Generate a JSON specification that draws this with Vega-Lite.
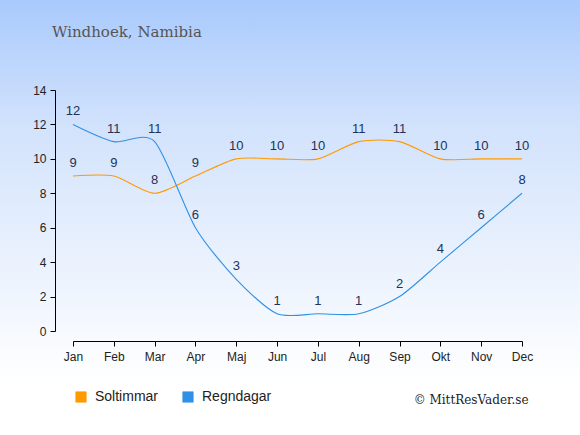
{
  "$schema": "https://vega.github.io/schema/vega-lite/v6.json",
  "width": 580,
  "height": 435,
  "padding": 0,
  "autosize": {"type": "none"},
  "background": "#ffffff",
  "title": {
    "text": "Windhoek, Namibia",
    "anchor": "start",
    "frame": "group",
    "font": "DejaVu Serif",
    "fontSize": 15,
    "fontWeight": "normal",
    "color": "#555555",
    "baseline": "alphabetic",
    "dx": 52,
    "offset": -52
  },
  "data": {
    "values": [
      {"month": "Jan", "series": "Soltimmar", "value": 9},
      {"month": "Feb", "series": "Soltimmar", "value": 9},
      {"month": "Mar", "series": "Soltimmar", "value": 8},
      {"month": "Apr", "series": "Soltimmar", "value": 9},
      {"month": "Maj", "series": "Soltimmar", "value": 10},
      {"month": "Jun", "series": "Soltimmar", "value": 10},
      {"month": "Jul", "series": "Soltimmar", "value": 10},
      {"month": "Aug", "series": "Soltimmar", "value": 11},
      {"month": "Sep", "series": "Soltimmar", "value": 11},
      {"month": "Okt", "series": "Soltimmar", "value": 10},
      {"month": "Nov", "series": "Soltimmar", "value": 10},
      {"month": "Dec", "series": "Soltimmar", "value": 10},
      {"month": "Jan", "series": "Regndagar", "value": 12},
      {"month": "Feb", "series": "Regndagar", "value": 11},
      {"month": "Mar", "series": "Regndagar", "value": 11},
      {"month": "Apr", "series": "Regndagar", "value": 6},
      {"month": "Maj", "series": "Regndagar", "value": 3},
      {"month": "Jun", "series": "Regndagar", "value": 1},
      {"month": "Jul", "series": "Regndagar", "value": 1},
      {"month": "Aug", "series": "Regndagar", "value": 1},
      {"month": "Sep", "series": "Regndagar", "value": 2},
      {"month": "Okt", "series": "Regndagar", "value": 4},
      {"month": "Nov", "series": "Regndagar", "value": 6},
      {"month": "Dec", "series": "Regndagar", "value": 8}
    ]
  },
  "encoding": {
    "x": {
      "field": "month",
      "type": "ordinal",
      "sort": null,
      "scale": {"type": "point", "padding": 0, "range": [73, 522]},
      "axis": {
        "title": "© MittResVader.se",
        "titleFont": "DejaVu Serif",
        "titleFontSize": 12,
        "titleFontWeight": "normal",
        "titleColor": "#222222",
        "titleAnchor": "end",
        "titleAlign": "right",
        "titleBaseline": "alphabetic",
        "titleX": 528,
        "titleY": 62,
        "offset": -94,
        "labelAngle": 0,
        "labelFont": "Liberation Sans",
        "labelFontSize": 12,
        "labelColor": "#222222",
        "labelPadding": 5,
        "domainColor": "#000000",
        "tickColor": "#000000",
        "tickSize": 5,
        "grid": false
      }
    },
    "y": {
      "field": "value",
      "type": "quantitative",
      "scale": {"domain": [0, 14], "range": [331, 90]},
      "axis": {
        "title": null,
        "values": [0, 2, 4, 6, 8, 10, 12, 14],
        "offset": -55,
        "labelFont": "Liberation Sans",
        "labelFontSize": 12,
        "labelColor": "#222222",
        "labelPadding": 4,
        "domainColor": "#000000",
        "tickColor": "#000000",
        "tickSize": 5,
        "grid": false
      }
    },
    "color": {
      "field": "series",
      "type": "nominal",
      "sort": ["Soltimmar", "Regndagar"],
      "scale": {"domain": ["Soltimmar", "Regndagar"], "range": ["#ff9900", "#2f91e6"]},
      "legend": {
        "title": null,
        "orient": "none",
        "direction": "horizontal",
        "legendX": 74,
        "legendY": 390,
        "symbolType": "square",
        "symbolSize": 110,
        "symbolStrokeWidth": 0,
        "symbolOpacity": 1,
        "labelFont": "Liberation Sans",
        "labelFontSize": 14,
        "labelColor": "#222222",
        "columnPadding": 22,
        "labelOffset": 7,
        "encode": {
          "symbols": {
            "update": {
              "fill": {"scale": "color", "field": "value"},
              "stroke": {"value": "#c8d2dc"},
              "strokeWidth": {"value": 0.6}
            }
          }
        }
      }
    }
  },
  "layer": [
    {
      "mark": {"type": "line", "interpolate": "cardinal", "tension": 0.25, "strokeWidth": 1.1}
    },
    {
      "mark": {
        "type": "text",
        "dy": -13,
        "font": "Liberation Sans",
        "fontSize": 13
      },
      "encoding": {
        "text": {"field": "value", "type": "quantitative"},
        "color": {"value": "#223355"}
      }
    }
  ],
  "config": {
    "view": {
      "stroke": null,
      "fill": {
        "gradient": "linear",
        "x1": 0, "y1": 0, "x2": 0, "y2": 1,
        "stops": [
          {"offset": 0, "color": "#a9cafc"},
          {"offset": 0.3, "color": "#d3e3fc"},
          {"offset": 0.88, "color": "#ffffff"},
          {"offset": 1, "color": "#ffffff"}
        ]
      }
    }
  }
}
